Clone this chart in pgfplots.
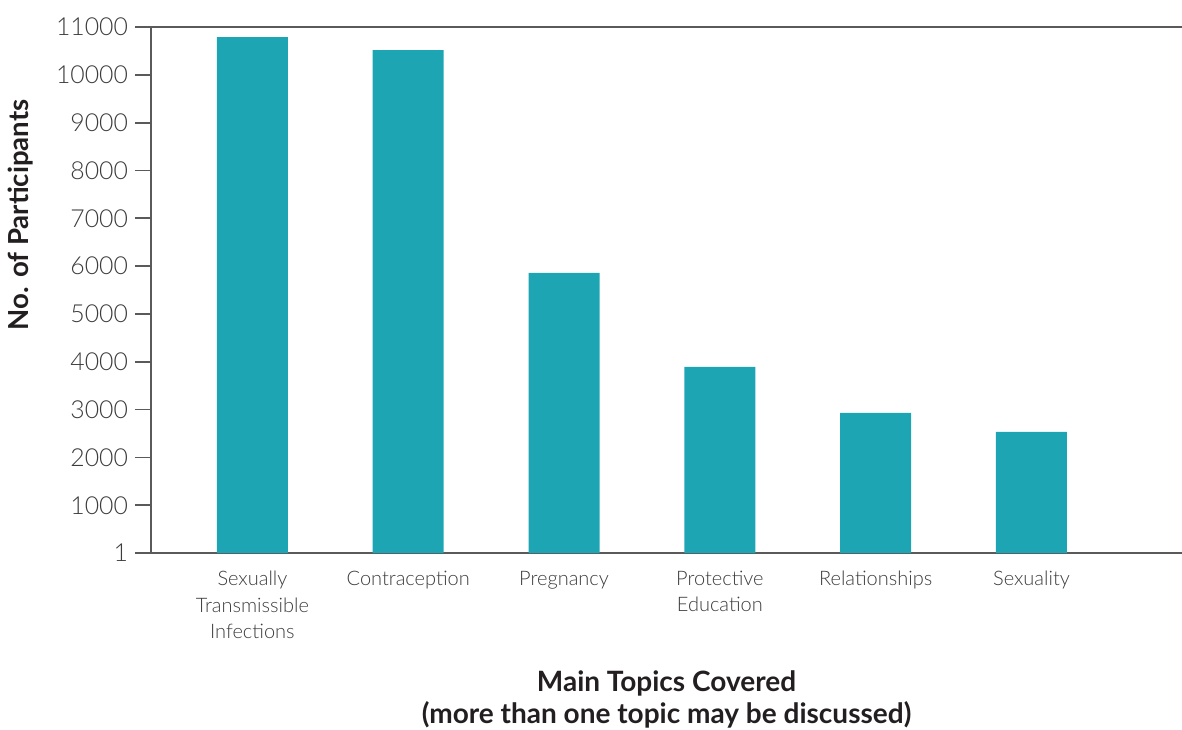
\documentclass[border=0pt]{standalone}
\usepackage{fontspec}
\usepackage{pgfplots}
\pgfplotsset{compat=1.18}
\IfFontExistsTF{Lato Light}{\setmainfont{Lato Light}[BoldFont=Lato Bold]}{\setmainfont{Lato}}
\newfontfamily\titlefont{Lato Bold}

\definecolor{barteal}{HTML}{1DA5B3}
\definecolor{axisgray}{HTML}{5A5A5A}
\definecolor{labelgray}{HTML}{3C3C3C}
\definecolor{titleblack}{HTML}{231F20}

\begin{document}
\begin{tikzpicture}
\begin{axis}[
    at={(0,0)}, anchor=south west,
    scale only axis,
    width=515.5pt, height=263pt,
    xmin=-0.651, xmax=5.966,
    ymin=1, ymax=11000,
    axis x line*=box, axis y line*=left,
    axis line style={axisgray, line width=0.9pt},
    xtick={0,...,5},
    xticklabels={{Sexually\\Transmissible\\Infections},Contraception,Pregnancy,{Protective\\Education},Relationships,Sexuality},
    xtick style={draw=none},
    xticklabel style={align=center, font=\fontsize{10}{13.25}\selectfont, text=labelgray, yshift=2.5pt},
    ytick={1,1000,2000,3000,4000,5000,6000,7000,8000,9000,10000,11000},
    ytick style={axisgray, line width=0.9pt},
    tick align=outside,
    major tick length=8pt,
    yticklabel style={font=\fontsize{12.4}{14}\selectfont, text=labelgray},
    /pgf/number format/.cd, 1000 sep={}, assume math mode=true, /pgfplots/.cd,
    scaled y ticks=false,
    ylabel={\titlefont No. of Participants},
    ylabel style={at={(axis description cs:-0.127,0.643)}, anchor=center, font=\fontsize{13.8}{16}\selectfont, text=titleblack},
    xlabel={\titlefont Main Topics Covered\\\titlefont (more than one topic may be discussed)},
    xlabel style={at={(axis description cs:0.5,-0.278)}, anchor=center, align=center, font=\fontsize{14}{16}\selectfont, text=titleblack},
]
\addplot[ybar, bar width=35.5pt, fill=barteal, draw=none] coordinates {
    (0,10790) (1,10518) (2,5858) (3,3893) (4,2932) (5,2535)
};
\end{axis}
\pgfresetboundingbox
\useasboundingbox (-75.5pt,-88pt) rectangle (515.5pt,276.5pt);
\end{tikzpicture}
\end{document}
